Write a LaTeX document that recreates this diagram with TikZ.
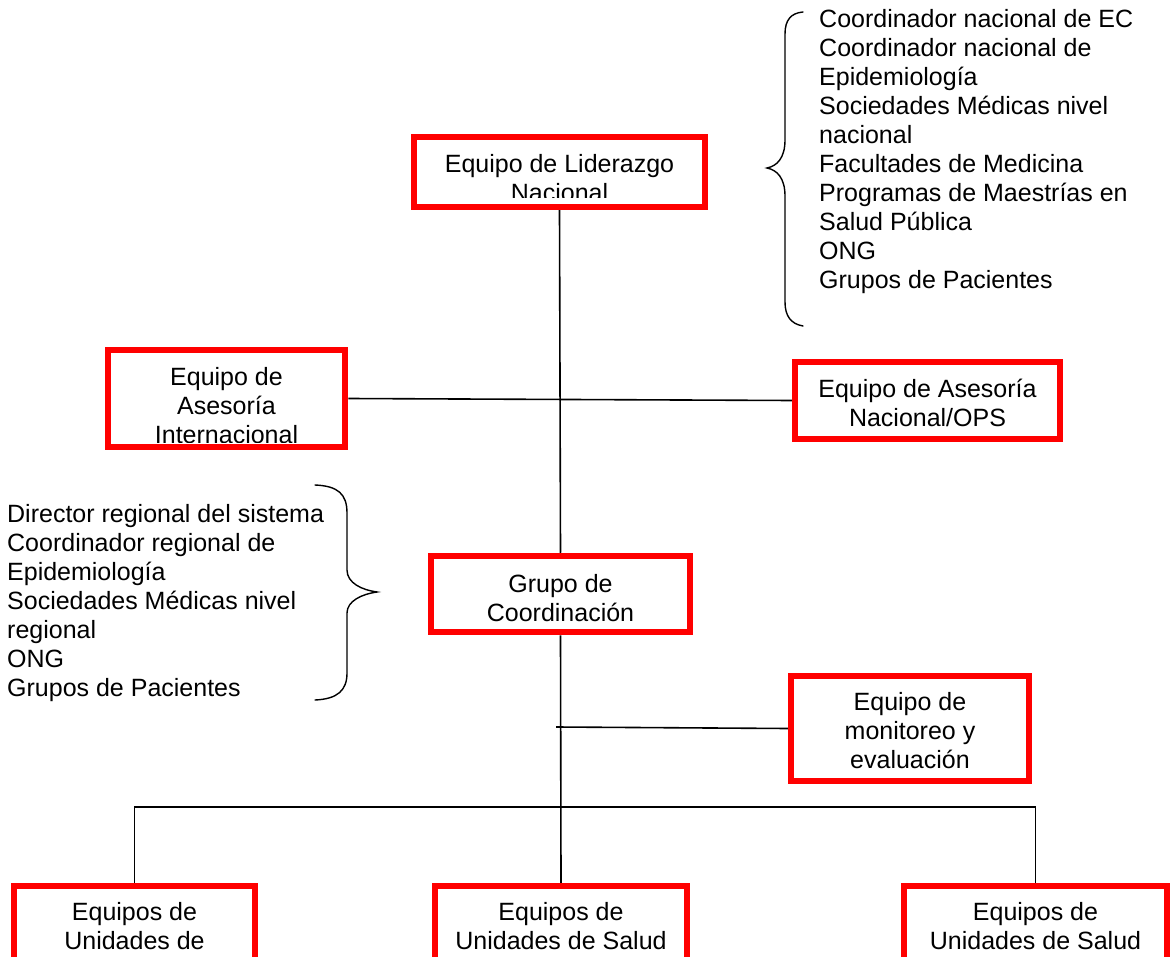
\documentclass[tikz,border=0pt]{standalone}
\usepackage{fontspec}
\setmainfont{Liberation Sans}
\begin{document}
\begin{tikzpicture}[x=1pt,y=-1pt,
  redbox/.style={draw=red, line width=6.5pt, inner sep=0pt},
  boxtext/.style={font=\fontsize{25}{29}\selectfont, align=center, anchor=north, inner sep=0pt},
  listtext/.style={font=\fontsize{25}{29}\selectfont, align=left, anchor=north west, inner sep=0pt},
  link/.style={line width=1.6pt, black},
  brace/.style={line width=1.4pt, black, line cap=round}
]
% page frame
\clip (0,0) rectangle (1173,957);
\fill[white] (0,0) rectangle (1173,957);

% clip to the inside of a box; #2 is the bottom margin
\newcommand\insideclip[2]{\clip ([xshift=8pt,yshift=-8pt]#1.north west) rectangle ([xshift=-8pt,yshift=#2]#1.south east);}

% boxes
\node[redbox, minimum width=291pt, minimum height=70pt]  (lid)   at (559.5,172)  {};
\node[redbox, minimum width=237pt, minimum height=97pt]  (intl)  at (226.5,398.5) {};
\node[redbox, minimum width=265pt, minimum height=77pt]  (ops)   at (927.5,400.5) {};
\node[redbox, minimum width=259pt, minimum height=76pt]  (grp)   at (560.5,594)  {};
\node[redbox, minimum width=238pt, minimum height=105pt] (mon)   at (910,728.5)  {};
\node[redbox, minimum width=241pt, minimum height=100pt] (leftb) at (134.5,936)  {};
\node[redbox, minimum width=252pt, minimum height=100pt] (midb)  at (561,936)    {};
\node[redbox, minimum width=263pt, minimum height=100pt] (rightb) at (1035.5,936) {};

% box texts
\begin{scope}\insideclip{lid}{13pt}
  \node[boxtext] (lidtxt) at (559.5,151.7) {\strut Equipo de Liderazgo\\Nacional};
\end{scope}
\begin{scope}\insideclip{intl}{8pt}
  \node[boxtext] (intltxt) at (226.5,364.7) {\strut Equipo de\\Asesoría\\Internacional};
\end{scope}
\begin{scope}\insideclip{ops}{8pt}
  \node[boxtext] (opstxt) at (927.5,376.7) {\strut Equipo de Asesoría\\Nacional/OPS};
\end{scope}
\begin{scope}\insideclip{grp}{8pt}
  \node[boxtext] (grptxt) at (560.5,571.7) {\strut Grupo de\\Coordinación};
\end{scope}
\begin{scope}\insideclip{mon}{8pt}
  \node[boxtext] (montxt) at (910,689.7) {\strut Equipo de\\monitoreo y\\evaluación};
\end{scope}
\node[boxtext] (lefttxt)  at (134.5,899.7)  {\strut Equipos de\\Unidades de};
\node[boxtext] (midtxt)   at (561,899.7)    {\strut Equipos de\\Unidades de Salud};
\node[boxtext] (righttxt) at (1035.5,899.7) {\strut Equipos de\\Unidades de Salud};

% member lists
\node[listtext] (natlist) at (819,7) {\strut Coordinador nacional de EC\\Coordinador nacional de\\Epidemiología\\Sociedades Médicas nivel\\nacional\\Facultades de Medicina\\Programas de Maestrías en\\Salud Pública\\ONG\\Grupos de Pacientes};
\node[listtext] (reglist) at (7,501.7) {\strut Director regional del sistema\\Coordinador regional de\\Epidemiología\\Sociedades Médicas nivel\\regional\\ONG\\Grupos de Pacientes};

% braces
\draw[brace] (803,12) .. controls (791,13) and (785,20) .. (785,34) -- (785,140)
  .. controls (785,158) and (777,166) .. (767,168)
  .. controls (777,170) and (785,178) .. (785,196) -- (785,302)
  .. controls (785,316) and (791,324) .. (803,326);
\draw[brace] (315,485) .. controls (338,486) and (347,494) .. (347,513) -- (347,570)
  .. controls (347,583) and (362,590) .. (377,592)
  .. controls (362,594) and (347,601) .. (347,613) -- (347,673)
  .. controls (347,690) and (338,699) .. (315,700);

% connectors
\coordinate (tick) at (556,727);
\coordinate (bus) at (561,807);
\draw[link] (lid.south) -- (grp.north);
\draw[link] (intl.east) -- (ops.west);
\draw[link] (tick) -- (mon.west);
\draw[link] (grp.south) -- (midb.north);
\draw[link] (leftb.north) -- (leftb.north |- bus) -- (rightb.north |- bus) -- (rightb.north);
\end{tikzpicture}
\end{document}
